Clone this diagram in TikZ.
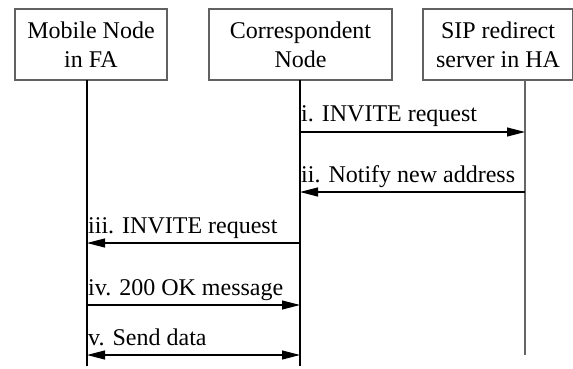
\documentclass[tikz,border=0pt]{standalone}
\usepackage{fontspec}
\setmainfont{Liberation Serif}
\usetikzlibrary{arrows.meta}
\begin{document}
\begin{tikzpicture}[x=1pt,y=-1pt,
  box/.style={draw=black!62,line width=1.3pt,minimum height=71pt,inner sep=0pt,align=center,font=\fontsize{24}{29}\selectfont},
  life/.style={line width=1.2pt},
  msg/.style={line width=1.1pt,-{Triangle[length=18pt,width=9pt]}},
  lbl/.style={font=\fontsize{24}{29}\selectfont,inner sep=0pt,anchor=base west}]
\useasboundingbox (0,0) rectangle (573,368);
\node[box,minimum width=152pt] (mn) at (91,44.5) {Mobile Node\\in FA};
\node[box,minimum width=183pt] (cn) at (300.5,44.5) {Correspondent\\Node};
\node[box,minimum width=150pt] (sip) at (498,44.5) {SIP redirect\\server in HA};
% lifelines
\coordinate (t1) at (87,80); \coordinate (e1) at (87,366);
\coordinate (t2) at (300,80); \coordinate (e2) at (300,366);
\coordinate (t3) at (525,80); \coordinate (e3) at (525,355);
\draw[life] (t1) -- (e1);
\draw[life] (t2) -- (e2);
\draw[life,black!60,line width=1.8pt] (t3) -- (e3);
% message points
\coordinate (a2) at (300,132); \coordinate (a3) at (525,132);
\coordinate (b2) at (300,192); \coordinate (b3) at (525,192);
\coordinate (c1) at (87,243); \coordinate (c2) at (300,243);
\coordinate (d1) at (87,305); \coordinate (d2) at (300,305);
\coordinate (f1) at (87,355); \coordinate (f2) at (300,355);
\draw[msg] (a2) -- (a3);
\node[lbl] (la) at ([shift={(1,-11)}]a2) {i. INVITE request};
\draw[msg] (b3) -- (b2);
\node[lbl] (lb) at ([shift={(1,-10)}]b2) {ii. Notify new address};
\draw[msg] (c2) -- (c1);
\node[lbl] (lc) at ([shift={(1,-10)}]c1) {iii. INVITE request};
\draw[msg] (d1) -- (d2);
\node[lbl] (ld) at ([shift={(1,-10)}]d1) {iv. 200 OK message};
\draw[msg,{Triangle[length=18pt,width=9pt]}-{Triangle[length=18pt,width=9pt]}] (f1) -- (f2);
\node[lbl] (lf) at ([shift={(1,-10)}]f1) {v. Send data};
\end{tikzpicture}
\end{document}
